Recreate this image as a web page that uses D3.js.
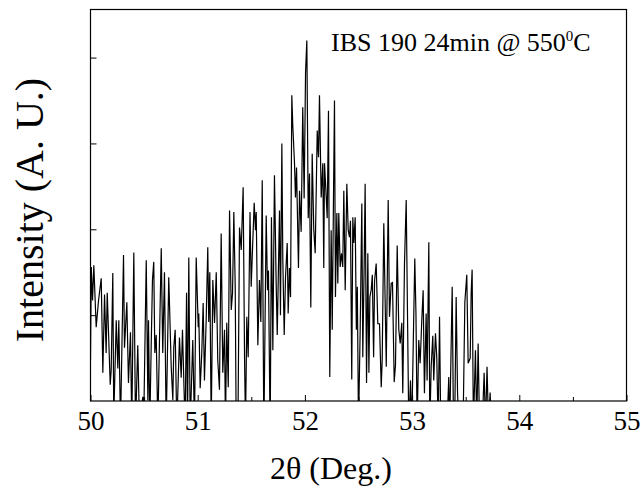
<html>
<head>
    <meta charset="UTF-8" />
    <script src="https://d3js.org/d3.v7.min.js"></script>
    <style>
        body { margin: 0; background: white; }
        text { font-family: "Liberation Serif", "Times New Roman", serif; fill: black; }
        .axis .domain { stroke: none; }
        .axis line { stroke: black; stroke-width: 1; }
    </style>
</head>
<body>
<svg id="svg1" width="641" height="493"></svg>
<script>

    // 2theta (deg) and intensity
    const twoTheta = [
        50.000,50.007,50.019,50.031,50.053,50.075,50.100,50.115,50.131,50.146,50.156,50.184,50.193,50.208,50.217,50.240,
        50.255,50.264,50.280,50.308,50.317,50.339,50.354,50.373,50.385,50.404,50.420,50.441,50.457,50.488,50.497,50.520,
        50.535,50.541,50.553,50.566,50.578,50.590,50.600,50.613,50.628,50.660,50.674,50.690,50.706,50.730,
        50.753,50.768,50.777,50.790,50.805,50.830,50.846,50.858,50.872,50.883,50.896,50.905,50.917,50.930,50.954,50.970,
        50.986,51.005,51.010,51.023,51.038,51.051,51.063,51.079,51.094,51.103,51.113,51.126,51.141,51.157,51.173,51.187,
        51.203,51.219,51.234,51.250,51.259,51.271,51.285,51.297,51.313,51.325,51.337,51.350,51.359,51.376,51.390,51.406,
        51.424,51.437,51.446,51.458,51.471,
        51.488,51.499,51.511,51.527,51.539,51.546,51.561,51.576,51.589,51.602,51.617,51.639,51.651,51.660,51.676,51.688,
        51.701,51.716,51.732,51.742,51.763,51.772,51.785,51.794,51.807,51.819,51.835,51.844,51.856,51.866,51.878,51.887,
        51.903,51.912,51.922,51.940,51.950,51.965,51.980,51.993,52.006,52.018,52.031,52.043,52.055,52.068,52.083,52.096,
        52.115,52.127,52.136,52.152,52.167,52.176,52.183,52.199,52.208,52.220,52.232,
        52.245,52.255,52.267,52.276,52.285,52.298,52.307,52.316,52.329,52.341,52.353,52.363,52.376,52.391,52.404,52.416,
        52.425,52.437,52.447,52.456,52.469,52.480,52.489,52.500,52.516,52.531,52.540,52.553,52.562,52.575,52.587,52.597,
        52.606,52.619,52.629,52.641,52.650,52.665,52.680,52.696,52.712,52.721,52.736,52.759,52.777,52.789,52.805,52.817,
        52.833,52.845,52.861,52.876,52.889,52.904,52.913,52.929,52.945,52.957,52.969,52.985,52.997,53.025,53.036,53.047,
        53.062,53.075,53.090,53.103,53.115,53.131,53.140,53.156,53.165,53.178,53.193,53.202,53.218,53.230,53.243,53.256,
        53.268,53.302,53.326,53.342,53.351,53.374,53.386,53.400,53.411,53.424,53.437,53.461,53.479,53.492,53.510,53.523,
        53.542,53.551,53.560,53.572,53.591,53.603,53.616,53.629,53.654,53.672,53.685,53.699,53.713,53.728,53.741,53.778
    ];
    const intensity = [
        4.8,15.6,11.7,15.8,8.6,11.7,14.3,3.3,12.4,5.6,12.6,1.9,3.6,14.9,-2,9.4,
        3.8,9.4,-3,17.0,6.2,11.5,2.1,8.0,-3,17.3,-3,6.5,-3,0.5,-2,16.4,
        0.1,9.4,-3,6.3,14.1,16.2,5.6,7.7,-3,17.8,5.6,15.0,-3,14.4,
        4.0,0.1,6.3,8.3,-3,7.4,2.7,8.3,1.6,-3,12.6,-3,16.7,-3,7.1,-3,
        16.7,8.6,10.2,1.5,5.6,11.4,2.4,9.4,17.9,9.2,15.0,-3,14.1,9.1,15.0,4.8,
        1.3,19.5,3.3,8.3,-3,9.1,1.6,22.2,10.6,12.6,22.0,13.3,-3,-2,20.2,17.6,
        24.9,5.1,-3,9.8,5.1,
        22.0,13.3,17.6,23.1,19.9,22.0,6.5,14.1,9.2,25.7,-4,21.6,12.9,15.2,-4,21.4,
        5.9,26.3,13.7,7.7,22.2,10.0,30.0,16.4,7.7,14.4,18.4,10.2,15.5,12.1,35.6,32.1,
        27.7,23.7,27.2,15.5,24.5,19.7,34.2,23.6,38.3,42.0,21.3,26.5,10.9,28.8,19.9,17.2,
        31.5,28.4,35.6,23.7,27.7,15.5,27.7,23.7,21.3,33.8,2.8,
        19.9,8.3,24.2,35.0,12.1,21.9,13.7,21.9,15.6,17.2,15.6,24.5,12.9,25.3,19.9,19.1,
        21.0,2.5,21.4,18.4,21.4,8.3,13.3,-3,8.5,23.0,5.1,16.0,25.3,2.1,17.2,3.3,
        12.1,13.0,14.7,5.1,14.0,16.0,9.0,9.0,1.6,4.8,20.7,4.0,23.4,9.8,13.7,13.8,
        2.2,4.2,18.1,8.3,6.7,9.1,0.9,16.0,23.4,10.2,-3,2.4,-3,16.6,10.2,-3,
        7.1,4.4,9.3,12.9,0.9,10.2,2.4,18.5,-3,4.0,7.6,2.4,7.9,5.1,-3,9.8,
        -4,-6,-3,2.8,-3,13.3,-3,0.1,12.1,0.9,-3,-2,0.1,11.5,14.7,4.4,
        5.0,12.6,15.3,-3,5.9,-3,6.7,-3,-3,3.3,-3,4.0,-3,1.0,-3,-8
    ];

    const majorTicks = [50, 51, 52, 53, 54, 55];
    const minorTicks = [50.5, 51.5, 52.5, 53.5, 54.5];
    const yTicks = [10, 20, 30, 40];

    const svg1 = d3.select("svg#svg1");
    const plot = {left: 90.5, right: 626.5, top: 9.5, bottom: 401};

    const xScale = d3.scaleLinear().domain([50, 55]).range([plot.left, plot.right]);
    const yScale = d3.scaleLinear().domain([0, 45.6]).range([plot.bottom, plot.top]);

    svg1.append("clipPath").attr("id", "plotClip")
        .append("rect")
        .attr("x", plot.left).attr("y", plot.top)
        .attr("width", plot.right - plot.left).attr("height", plot.bottom - plot.top);

    // scan line
    const scan = d3.zip(twoTheta, intensity);
    const lineGen = d3.line()
        .x(d => xScale(d[0]))
        .y(d => yScale(d[1]));

    svg1.append("path")
        .attr("clip-path", "url(#plotClip)")
        .attr("d", lineGen(scan))
        .style("fill", "none")
        .style("stroke", "black")
        .style("stroke-width", 1.2);

    // axes, ticks pointing in
    svg1.append("g").attr("class", "axis")
        .attr("transform", "translate(0," + plot.bottom + ")")
        .call(d3.axisBottom(xScale).tickValues(minorTicks).tickSize(-4).tickFormat(""));

    let bottomAxis = svg1.append("g").attr("class", "axis")
        .attr("transform", "translate(0," + plot.bottom + ")")
        .call(d3.axisBottom(xScale).tickValues(majorTicks).tickFormat(d3.format("d"))
              .tickSizeInner(-6).tickSizeOuter(0).tickPadding(10));
    bottomAxis.selectAll("text").style("font-size", "27px");

    svg1.append("g").attr("class", "axis")
        .attr("transform", "translate(" + plot.left + ",0)")
        .call(d3.axisLeft(yScale).tickValues(yTicks).tickSize(-6).tickFormat(""));

    // frame
    svg1.append("rect")
        .attr("x", plot.left).attr("y", plot.top)
        .attr("width", plot.right - plot.left).attr("height", plot.bottom - plot.top)
        .style("fill", "none").style("stroke", "black").style("stroke-width", 1.2);

    // labels
    svg1.append("text")
        .attr("x", 331).attr("y", 479)
        .attr("text-anchor", "middle")
        .style("font-size", "32px")
        .text("2\u03b8 (Deg.)");

    svg1.append("text")
        .attr("transform", "translate(43,210) rotate(-90)")
        .attr("text-anchor", "middle")
        .style("font-size", "40px")
        .text("Intensity (A. U.)");

    let note = svg1.append("text")
        .attr("x", 331).attr("y", 51)
        .style("font-size", "26px");
    note.append("tspan").text("IBS 190 24min @ 550");
    note.append("tspan").attr("dy", -10).style("font-size", "15px").text("0");
    note.append("tspan").attr("dy", 10).text("C");

</script>
</body>
</html>
